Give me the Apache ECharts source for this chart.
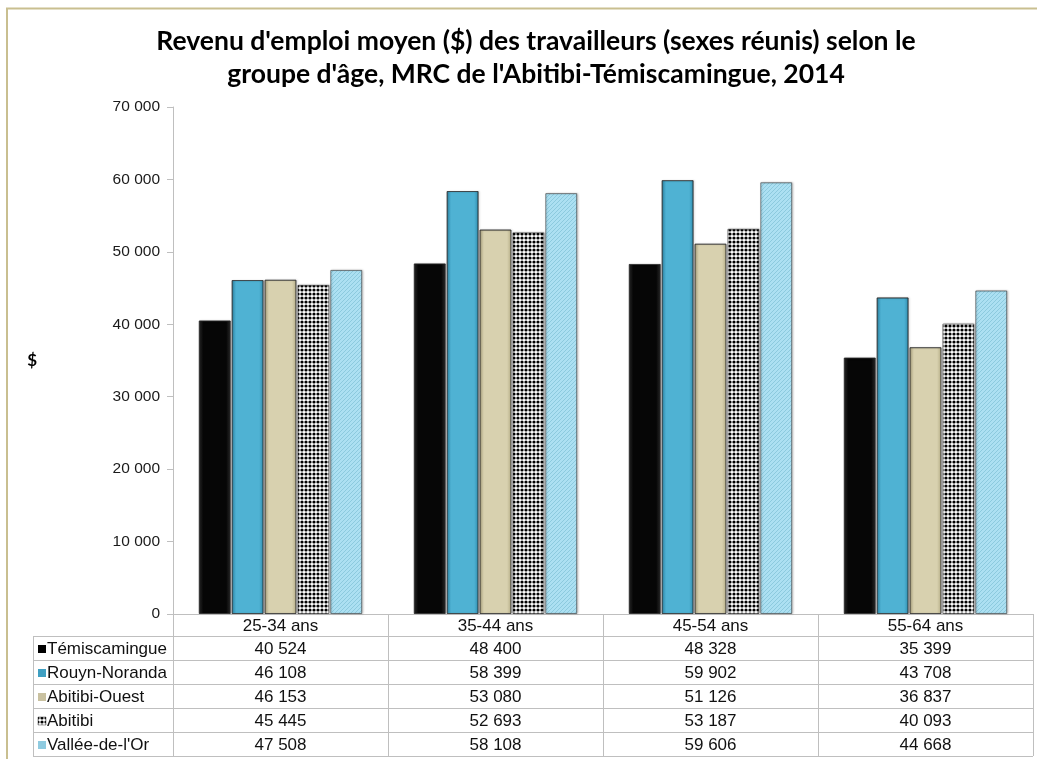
<!DOCTYPE html>
<html><head><meta charset="utf-8">
<script src="https://cdn.jsdelivr.net/npm/echarts@6/dist/echarts.min.js"></script>
<style>html,body{margin:0;padding:0;background:#fff}#c{width:1037px;height:759px}</style>
</head><body><div id="c"></div>
<script>
// ---- data ----
const categories = ['25-34 ans', '35-44 ans', '45-54 ans', '55-64 ans'];
const seriesNames = ['Témiscamingue', 'Rouyn-Noranda', 'Abitibi-Ouest', 'Abitibi', "Vallée-de-l'Or"];
const temiscamingue = [40524, 48400, 48328, 35399];
const rouynNoranda = [46108, 58399, 59902, 43708];
const abitibiOuest = [46153, 53080, 51126, 36837];
const abitibi = [45445, 52693, 53187, 40093];
const valleeDeLOr = [47508, 58108, 59606, 44668];
const seriesValues = [temiscamingue, rouynNoranda, abitibiOuest, abitibi, valleeDeLOr];
const titleText = "Revenu d'emploi moyen ($) des travailleurs (sexes réunis) selon le\ngroupe d'âge, MRC de l'Abitibi-Témiscamingue, 2014";
const yAxisName = '$';

// ---- helpers ----
function fmt(n) { return String(n).replace(/\B(?=(\d{3})+(?!\d))/g, ' '); }
function dotPattern() {
  const c = document.createElement('canvas'); c.width = 4; c.height = 4;
  const g = c.getContext('2d');
  g.fillStyle = '#ffffff'; g.fillRect(0, 0, 4, 4);
  g.fillStyle = '#000000'; g.beginPath(); g.arc(2, 2, 1.6, 0, Math.PI * 2); g.fill();
  return { image: c, repeat: 'repeat' };
}
function hatchPattern() {
  const c = document.createElement('canvas'); c.width = 4; c.height = 4;
  const g = c.getContext('2d');
  g.fillStyle = '#ace0f2'; g.fillRect(0, 0, 4, 4);
  g.strokeStyle = '#8ccade'; g.lineWidth = 1;
  g.beginPath(); g.moveTo(0, 4); g.lineTo(4, 0); g.stroke();
  return { image: c, repeat: 'repeat' };
}
function hGrad(edge, mid) {
  return new echarts.graphic.LinearGradient(0, 0, 1, 0, [
    { offset: 0, color: edge }, { offset: 0.14, color: mid },
    { offset: 0.86, color: mid }, { offset: 1, color: edge }]);
}
const fills = [
  hGrad('#2b2b2b', '#060606'),
  hGrad('#2f8db0', '#4fb2d3'),
  hGrad('#b5ad86', '#d8d1af'),
  dotPattern(),
  hatchPattern()
];
const keyFills = ['#000000', '#3f9fc2', '#c9c1a0', dotPattern(), '#8fcbe0'];

const chart = echarts.init(document.getElementById('c'), null, { renderer: 'canvas' });
const option = {
  animation: false,
  backgroundColor: '#ffffff',
  title: {
    text: titleText, left: 531, top: 20, textAlign: 'center',
    textStyle: { fontFamily: 'Lato', fontWeight: 'bold', fontSize: 26.5, lineHeight: 33, color: '#000' }
  },
  grid: { left: 173, right: 4, top: 107, bottom: 145 },
  xAxis: {
    type: 'category', data: categories,
    axisLine: { show: true, lineStyle: { color: '#bfbfbf' } },
    axisTick: { show: false }, axisLabel: { show: false }
  },
  yAxis: {
    type: 'value', min: 0, max: 70000, interval: 10000,
    name: yAxisName, nameLocation: 'middle', nameRotate: 0, nameGap: 136,
    nameTextStyle: { fontFamily: 'Lato', fontWeight: 'bold', fontSize: 17, color: '#000' },
    axisLine: { show: true, lineStyle: { color: '#bfbfbf' } },
    axisTick: { show: true, length: 6, inside: false, lineStyle: { color: '#bfbfbf' } },
    axisLabel: { formatter: v => fmt(v), fontFamily: 'Arial', fontSize: 15.5, color: '#1a1a1a', margin: 13 },
    splitLine: { show: false }
  },
  series: seriesNames.map((name, i) => ({
    name, type: 'bar', data: seriesValues[i],
    barGap: '3%', barCategoryGap: '24%',
    itemStyle: { color: fills[i], borderColor: 'rgba(40,40,40,0.55)', borderWidth: 1,
      shadowColor: 'rgba(0,0,0,0.25)', shadowBlur: 2, shadowOffsetX: 1 }
  }))
};
chart.setOption(option);

// ---- data table under the axis, positioned from the axis scales ----
const c0 = chart.convertToPixel({ xAxisIndex: 0 }, 0);
const c1 = chart.convertToPixel({ xAxisIndex: 0 }, 1);
const band = c1 - c0;
const yBase = Math.round(chart.convertToPixel({ yAxisIndex: 0 }, 0));
const left0 = c0 - band / 2;
const rightEdge = c0 + band * (categories.length - 0.5);
const tableLeft = 33;
const headerH = 22, rowH = 24;
const lineColor = '#bfbfbf';
const tableFont = '17px Arial';
const g = [];
function line(x1, y1, x2, y2) {
  g.push({ type: 'line', silent: true, shape: { x1, y1, x2, y2 }, style: { stroke: lineColor, lineWidth: 1 } });
}
const yHeadBottom = yBase + headerH;
const yBottom = yHeadBottom + rowH * seriesNames.length;
for (let r = 0; r <= seriesNames.length; r++) {
  const y = yHeadBottom + r * rowH + 0.5;
  line(tableLeft, y, rightEdge, y);
}
for (let k = 0; k <= categories.length; k++) {
  const x = Math.round(left0 + k * band) + 0.5;
  line(x, yBase, x, yBottom);
}
line(tableLeft + 0.5, yHeadBottom, tableLeft + 0.5, yBottom);
categories.forEach((cat, k) => {
  g.push({ type: 'text', silent: true, x: c0 + k * band, y: yBase + headerH / 2 + 1,
    style: { text: cat, textAlign: 'center', textVerticalAlign: 'middle', verticalAlign: 'middle', font: tableFont, fill: '#111' } });
});
seriesNames.forEach((name, i) => {
  const yc = yHeadBottom + rowH * i + rowH / 2 + 1;
  g.push({ type: 'rect', silent: true, shape: { x: 38, y: yc - 4, width: 8, height: 8 },
    style: { fill: keyFills[i], stroke: i === 3 ? '#444' : null, lineWidth: 0.5 } });
  g.push({ type: 'text', silent: true, x: 47, y: yc,
    style: { text: name, textAlign: 'left', textVerticalAlign: 'middle', verticalAlign: 'middle', font: tableFont, fill: '#111' } });
  seriesValues[i].forEach((v, k) => {
    g.push({ type: 'text', silent: true, x: c0 + k * band, y: yc,
      style: { text: fmt(v), textAlign: 'center', textVerticalAlign: 'middle', verticalAlign: 'middle', font: tableFont, fill: '#111' } });
  });
});
g.push({ type: 'rect', silent: true, shape: { x: 7, y: 8.5, width: 1100, height: 800 },
  style: { fill: null, stroke: '#c9bf90', lineWidth: 2 } });
chart.setOption({ graphic: g });
</script>
</body></html>
